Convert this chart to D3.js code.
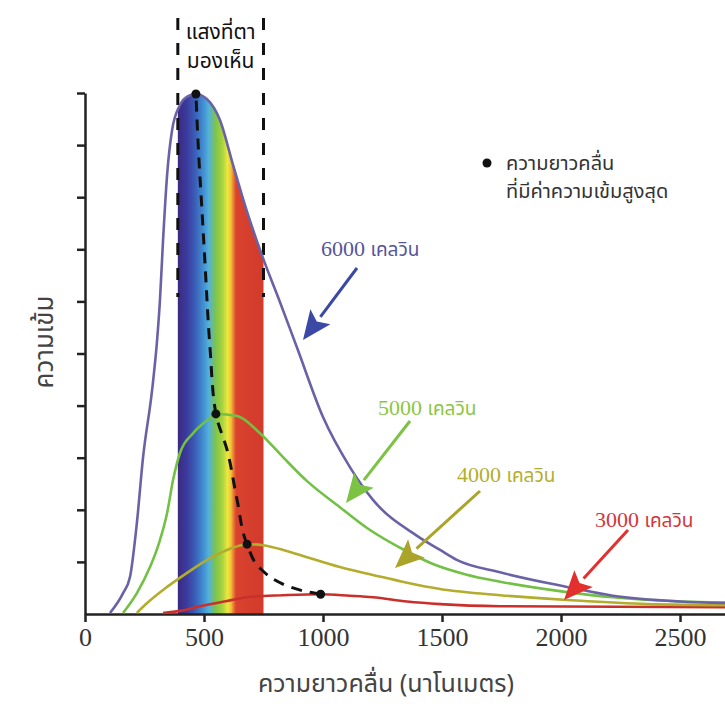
<!DOCTYPE html>
<html>
<head>
<meta charset="utf-8">
<script src="https://cdn.jsdelivr.net/npm/d3@7"></script>
<style>
  html, body { margin: 0; padding: 0; background: #fff; }
  svg { display: block; }
</style>
</head>
<body>
<svg id="chart" width="725" height="706"></svg>
<script>
// Black-body radiation curves: intensity vs wavelength (nm), arbitrary units 0..10
const xTicks = [0, 500, 1000, 1500, 2000, 2500];
const yTicks = [1, 2, 3, 4, 5, 6, 7, 8, 9, 10];

const curve6000 = [
  [105, 0.02], [160, 0.40], [189, 0.71], [218, 1.75], [244, 3.01], [282, 4.30],
  [303, 5.26], [315, 6.03], [328, 7.18], [345, 8.43], [366, 9.29], [399, 9.77],
  [433, 9.94], [466, 9.98], [513, 9.88], [567, 9.48], [622, 8.62], [676, 7.79],
  [748, 6.83], [819, 5.99], [891, 5.11], [1000, 3.78], [1113, 2.82], [1210, 2.19],
  [1395, 1.50], [1492, 1.23], [1562, 1.04], [1744, 0.80], [2025, 0.52], [2218, 0.35],
  [2500, 0.24], [2689, 0.21]
];
const curve5000 = [
  [160, 0.02], [218, 0.40], [273, 0.90], [315, 1.42], [345, 1.94], [370, 2.57],
  [399, 3.09], [454, 3.47], [513, 3.72], [550, 3.84], [639, 3.80], [735, 3.47],
  [832, 3.01], [933, 2.55], [1071, 2.05], [1185, 1.65], [1353, 1.20], [1462, 0.96],
  [1600, 0.76], [1744, 0.62], [2025, 0.42], [2218, 0.32], [2500, 0.24], [2689, 0.22]
];
const curve4000 = [
  [218, 0.02], [261, 0.21], [345, 0.52], [429, 0.79], [513, 1.04], [597, 1.23],
  [681, 1.34], [748, 1.32], [840, 1.22], [933, 1.09], [1071, 0.90], [1210, 0.75],
  [1353, 0.60], [1492, 0.48], [1744, 0.36], [2025, 0.27], [2361, 0.19], [2689, 0.17]
];
const curve3000 = [
  [328, 0.02], [399, 0.06], [483, 0.15], [597, 0.25], [693, 0.33], [832, 0.36],
  [990, 0.38], [1113, 0.35], [1210, 0.32], [1353, 0.24], [1492, 0.19],
  [1744, 0.15], [2689, 0.13]
];
// Wavelength of peak intensity for each temperature, and the locus joining them
const peaks = [[466, 9.98], [550, 3.84], [681, 1.34], [990, 0.38]];
const peakLocus = [
  [466, 9.98], [476, 8.96], [492, 7.70], [504, 6.74], [525, 5.12], [550, 3.84],
  [597, 3.15], [639, 2.19], [681, 1.34], [735, 0.88], [807, 0.63], [861, 0.52],
  [930, 0.43], [990, 0.38]
];
// Visible band limits (nm)
const visibleBand = [390, 750];

const seriesNames = ["6000 เคลวิน", "5000 เคลวิน", "4000 เคลวิน", "3000 เคลวิน"];

const THAI = "'Noto Sans Thai', Loma, Garuda, 'Noto Sans', 'DejaVu Sans', sans-serif";
const SERIF = "'Liberation Serif', 'Times New Roman', Tinos, 'DejaVu Serif', serif";

const svg = d3.select("#chart");
const x = d3.scaleLinear().domain([0, 2689]).range([85, 725]);
const y = d3.scaleLinear().domain([0, 10]).range([614, 93]);

const line = d3.line().x(d => x(d[0])).y(d => y(d[1])).curve(d3.curveMonotoneX);
const locusLine = d3.line().x(d => x(d[0])).y(d => y(d[1])).curve(d3.curveMonotoneY);
const area = d3.area().x(d => x(d[0])).y0(y(0)).y1(d => y(d[1])).curve(d3.curveMonotoneX);

// Rainbow gradient for the visible band
const defs = svg.append("defs");
const grad = defs.append("linearGradient")
  .attr("id", "spectrum").attr("gradientUnits", "userSpaceOnUse")
  .attr("x1", x(visibleBand[0])).attr("x2", x(visibleBand[1]))
  .attr("y1", 0).attr("y2", 0);
[
  [0.00, "#3b2a82"], [0.10, "#3c3a9c"], [0.20, "#3a5db8"], [0.30, "#4191d0"],
  [0.36, "#53b0dc"], [0.44, "#7cc44c"], [0.52, "#a9d23e"], [0.58, "#ece83e"],
  [0.62, "#f2c23a"], [0.65, "#ea7a34"], [0.68, "#d9432e"], [1.00, "#d23a2b"]
].forEach(([o, c]) => grad.append("stop").attr("offset", o).attr("stop-color", c));

defs.append("clipPath").attr("id", "under6000")
  .append("path").attr("d", area(curve6000));

svg.append("rect")
  .attr("x", x(visibleBand[0])).attr("width", x(visibleBand[1]) - x(visibleBand[0]))
  .attr("y", y(10.2)).attr("height", y(0) - y(10.2))
  .attr("fill", "url(#spectrum)")
  .attr("clip-path", "url(#under6000)");

// Dashed verticals bounding the visible band
visibleBand.forEach(v => {
  svg.append("line")
    .attr("x1", x(v)).attr("x2", x(v)).attr("y1", 18).attr("y2", 297)
    .attr("stroke", "#111").attr("stroke-width", 3)
    .attr("stroke-dasharray", "12,13");
});
const bandMid = (x(visibleBand[0]) + x(visibleBand[1])) / 2;
svg.append("text").style("font-family", THAI)
  .attr("x", bandMid).attr("y", 39).attr("text-anchor", "middle")
  .attr("font-size", 21).attr("fill", "#111").text("แสงที่ตา");
svg.append("text").style("font-family", THAI)
  .attr("x", bandMid).attr("y", 68).attr("text-anchor", "middle")
  .attr("font-size", 21).attr("fill", "#111").text("มองเห็น");

// Axes
const xAxis = svg.append("g").attr("transform", `translate(0,${y(0)})`)
  .call(d3.axisBottom(x).tickValues(xTicks).tickFormat(d3.format("d"))
    .tickSize(8).tickSizeOuter(0).tickPadding(6));
xAxis.selectAll("text").style("font-family", SERIF).attr("font-size", 26).attr("fill", "#333");

const yAxis = svg.append("g").attr("transform", `translate(${x(0)},0)`)
  .call(d3.axisLeft(y).tickValues(yTicks).tickFormat("").tickSize(8).tickSizeOuter(0));

[xAxis, yAxis].forEach(g => {
  g.select(".domain").attr("stroke", "#222").attr("stroke-width", 2.5);
  g.selectAll(".tick line").attr("stroke", "#222").attr("stroke-width", 2.5);
});

// Curves
const curves = [
  { data: curve3000, color: "#c9302c" },
  { data: curve4000, color: "#b2ad2c" },
  { data: curve5000, color: "#72c145" },
  { data: curve6000, color: "#6a62a6" }
];
curves.forEach(c => {
  svg.append("path").attr("d", line(c.data))
    .attr("fill", "none").attr("stroke", c.color).attr("stroke-width", 2.6);
});

// Peak locus and peak markers
svg.append("path").attr("d", locusLine(peakLocus.slice().reverse()))
  .attr("fill", "none").attr("stroke", "#111").attr("stroke-width", 3)
  .attr("stroke-dasharray", "11,8");
svg.selectAll("circle.peak").data(peaks).join("circle")
  .attr("class", "peak")
  .attr("cx", d => x(d[0])).attr("cy", d => y(d[1])).attr("r", 4.5).attr("fill", "#111");

// Legend
svg.append("circle").attr("cx", 487).attr("cy", 163).attr("r", 4.5).attr("fill", "#111");
svg.append("text").style("font-family", THAI).attr("x", 506).attr("y", 170)
  .attr("font-size", 20).attr("fill", "#333").text("ความยาวคลื่น");
svg.append("text").style("font-family", THAI).attr("x", 506).attr("y", 198)
  .attr("font-size", 20).attr("fill", "#333").text("ที่มีค่าความเข้มสูงสุด");

// Series labels with arrows
const labels = [
  { text: seriesNames[0], tx: 321, ty: 256, color: "#55559a", arrow: "#3a48a6", from: [357, 268], to: [303, 340] },
  { text: seriesNames[1], tx: 378, ty: 415, color: "#8cc63e", arrow: "#7cc243", from: [410, 421], to: [346, 503] },
  { text: seriesNames[2], tx: 457, ty: 482, color: "#b3ae2c", arrow: "#aaa52a", from: [480, 491], to: [395, 568] },
  { text: seriesNames[3], tx: 595, ty: 527, color: "#d3363a", arrow: "#e2302e", from: [628, 530], to: [564, 600] }
];
labels.forEach(l => {
  const t = svg.append("text").attr("x", l.tx).attr("y", l.ty).attr("fill", l.color);
  const parts = l.text.split(" ");
  t.append("tspan").style("font-family", SERIF).attr("font-size", 22).text(parts[0] + " ");
  t.append("tspan").style("font-family", THAI).attr("font-size", 19).text(parts[1]);

  const [x1, y1] = l.from, [x2, y2] = l.to;
  const ang = Math.atan2(y2 - y1, x2 - x1);
  const headLen = 29, headW = 12.5;
  const bx = x2 - headLen * Math.cos(ang), by = y2 - headLen * Math.sin(ang);
  svg.append("line").attr("x1", x1).attr("y1", y1).attr("x2", bx).attr("y2", by)
    .attr("stroke", l.arrow).attr("stroke-width", 3);
  const px = -Math.sin(ang), py = Math.cos(ang);
  const notch = 6;
  const nx = x2 - (headLen - notch) * Math.cos(ang), ny = y2 - (headLen - notch) * Math.sin(ang);
  svg.append("path")
    .attr("d", `M${x2},${y2} L${bx + px * headW},${by + py * headW} L${nx},${ny} L${bx - px * headW},${by - py * headW} Z`)
    .attr("fill", l.arrow);
});

// Axis titles
svg.append("text").style("font-family", THAI)
  .attr("x", 386).attr("y", 692).attr("text-anchor", "middle")
  .attr("font-size", 25).attr("fill", "#444").text("ความยาวคลื่น (นาโนเมตร)");
svg.append("text").style("font-family", THAI)
  .attr("transform", "translate(53,342) rotate(-90)").attr("text-anchor", "middle")
  .attr("font-size", 26).attr("fill", "#444").text("ความเข้ม");
</script>
</body>
</html>
